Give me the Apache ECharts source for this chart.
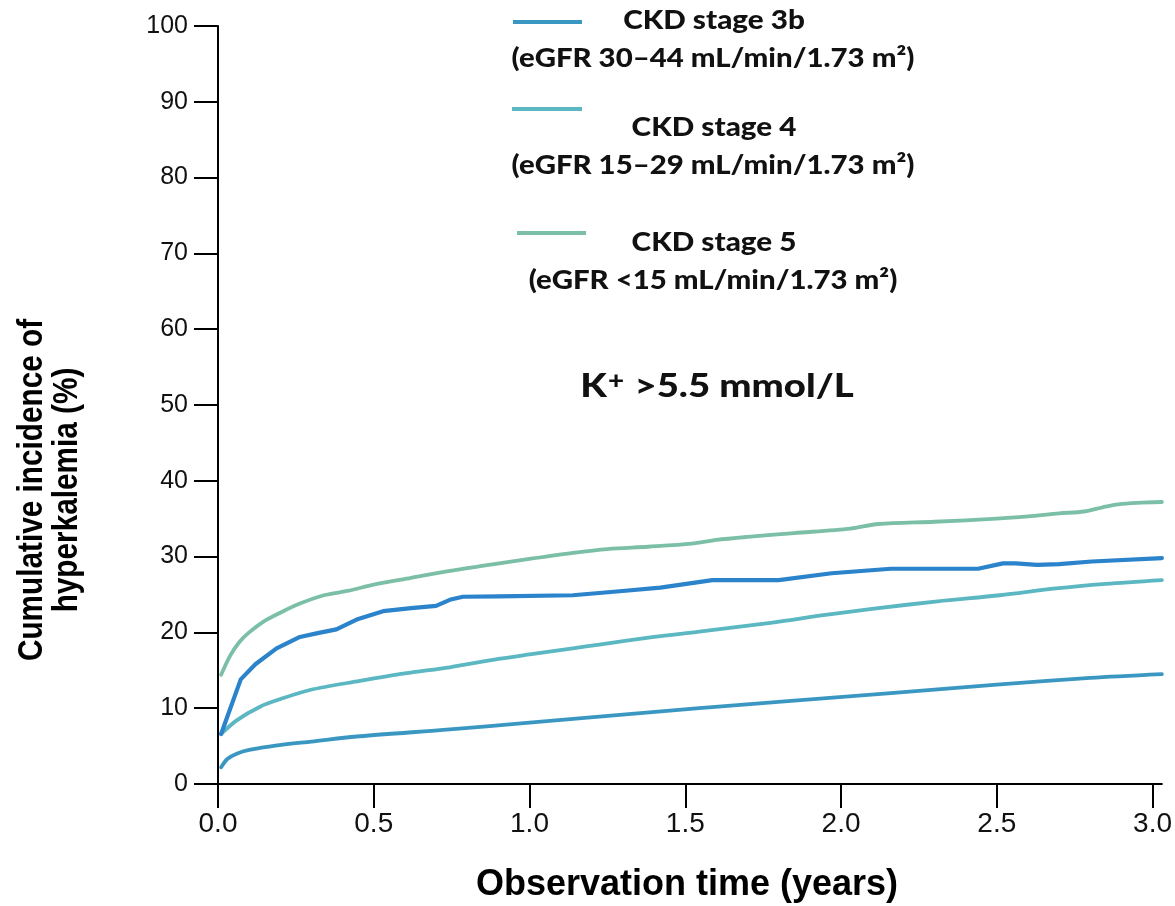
<!DOCTYPE html>
<html><head><meta charset="utf-8">
<script src="https://cdn.jsdelivr.net/npm/echarts@6/dist/echarts.min.js"></script>
<style>html,body{margin:0;padding:0;background:#fff}#c{width:1175px;height:906px}</style>
</head><body><div id="c"></div>
<script>
// ---- Data ----
const xTickValues = [0, 0.5, 1.0, 1.5, 2.0, 2.5, 3.0];

const stage3bTime = [0.01, 0.03, 0.06, 0.10, 0.19, 0.30, 0.455, 0.744, 1.0, 1.224, 1.545, 1.85, 2.16, 2.5, 2.8, 3.03];
const stage3bInc  = [2.2, 3.3, 4.0, 4.5, 5.1, 5.6, 6.3, 7.2, 8.1, 8.9, 10.0, 11.0, 12.0, 13.1, 14.0, 14.5];

const stage4Time = [0.01, 0.06, 0.135, 0.2, 0.295, 0.455, 0.6, 0.744, 0.9, 1.0, 1.139, 1.224, 1.4, 1.545, 1.78, 1.95, 2.1, 2.31, 2.51, 2.69, 2.85, 3.03];
const stage4Inc  = [6.6, 8.4, 10.2, 11.2, 12.4, 13.6, 14.6, 15.4, 16.5, 17.1, 17.9, 18.4, 19.4, 20.1, 21.3, 22.3, 23.1, 24.1, 24.9, 25.8, 26.4, 26.9];

const stage5Time = [0.01, 0.04, 0.07, 0.10, 0.145, 0.2, 0.263, 0.34, 0.42, 0.5, 0.62, 0.74, 0.87, 1.0, 1.14, 1.25, 1.38, 1.52, 1.6, 1.7, 1.85, 2.03, 2.12, 2.3, 2.5, 2.6, 2.7, 2.78, 2.84, 2.89, 2.95, 3.03];
const stage5Inc  = [14.4, 17.0, 18.8, 20.0, 21.4, 22.6, 23.8, 24.9, 25.5, 26.3, 27.2, 28.1, 28.9, 29.7, 30.5, 31.0, 31.3, 31.7, 32.2, 32.6, 33.1, 33.7, 34.3, 34.6, 35.0, 35.3, 35.7, 35.95, 36.5, 36.9, 37.1, 37.2];

const otherTime = [0.01, 0.073, 0.12, 0.188, 0.263, 0.32, 0.38, 0.445, 0.53, 0.62, 0.70, 0.744, 0.786, 0.9, 1.139, 1.28, 1.42, 1.587, 1.8, 1.97, 2.16, 2.44, 2.52, 2.56, 2.63, 2.7, 2.805, 3.03];
const otherInc  = [6.6, 13.8, 15.8, 17.9, 19.4, 19.9, 20.4, 21.7, 22.8, 23.2, 23.5, 24.3, 24.7, 24.75, 24.9, 25.4, 25.9, 26.9, 26.9, 27.8, 28.4, 28.4, 29.1, 29.1, 28.9, 29.0, 29.35, 29.8];

const legendNames = ['CKD stage 3b', 'CKD stage 4', 'CKD stage 5'];
const legendSubs = ['(eGFR 30\u201344 mL/min/1.73 m\u00B2)', '(eGFR 15\u201329 mL/min/1.73 m\u00B2)', '(eGFR <15 mL/min/1.73 m\u00B2)'];

// ---- Styles ----
const colors = { s3b: '#3a97c1', s4: '#5bb7c1', s5: '#7bbfa6', other: '#2a83cb' };
const zip = (t, v) => t.map((x, i) => [x, v[i]]);
const legFont = 'Lato, "Noto Sans", sans-serif';

const chart = echarts.init(document.getElementById('c'), null, { renderer: 'canvas' });

const legendItems = [
  { color: colors.s3b, lx1: 513, lx2: 582, ly: 22, ty1: 21, ty2: 59 },
  { color: colors.s4, lx1: 512, lx2: 582, ly: 109, ty1: 128, ty2: 166 },
  { color: colors.s5, lx1: 517, lx2: 586, ly: 233, ty1: 243, ty2: 281 }
];
const graphics = [];
legendItems.forEach((it, i) => {
  graphics.push({ type: 'line', shape: { x1: it.lx1, y1: it.ly, x2: it.lx2, y2: it.ly }, style: { stroke: it.color, lineWidth: 4 } });
  graphics.push({ type: 'text', x: 714, y: it.ty1, scaleX: 1.14, style: { text: legendNames[i], font: '900 26px ' + legFont, fill: '#111', align: 'center', verticalAlign: 'middle' } });
  graphics.push({ type: 'text', x: 713, y: it.ty2, scaleX: 1.13, style: { text: legendSubs[i], font: '900 26px ' + legFont, fill: '#111', align: 'center', verticalAlign: 'middle' } });
});
graphics.push({
  type: 'text', x: 717, y: 386, scaleX: 1.16,
  style: {
    text: '{a|K}{s|+}{a| >5.5 mmol/L}', align: 'center', verticalAlign: 'middle',
    rich: {
      a: { font: '900 33px ' + legFont, fill: '#111', verticalAlign: 'bottom' },
      s: { font: '900 24px ' + legFont, fill: '#111', verticalAlign: 'top', padding: [0, 1, 0, 1] }
    }
  }
});
graphics.push({ type: 'text', x: 687, y: 885, style: { text: 'Observation time (years)', font: 'bold 36px "Liberation Sans", Arial, sans-serif', fill: '#000', align: 'center', verticalAlign: 'middle' } });
graphics.push({ type: 'text', x: 50, y: 490, rotation: Math.PI / 2, scaleX: 0.85,
  style: { text: 'Cumulative incidence of\nhyperkalemia (%)', font: 'bold 35px "Liberation Sans", Arial, sans-serif', lineHeight: 35, fill: '#000', align: 'center', verticalAlign: 'middle' } });

const mkSeries = (name, data, color, width, smooth) => ({
  name, type: 'line', data, showSymbol: false, symbol: 'none', smooth,
  lineStyle: { color, width, cap: 'round', join: 'round' }, itemStyle: { color }, z: 3
});

chart.setOption({
  animation: false,
  backgroundColor: '#fff',
  grid: { left: 218, right: 12, top: 26, bottom: 122, containLabel: false },
  xAxis: {
    type: 'value', min: 0, max: 3.03, interval: 0.5,
    axisLine: { show: true, onZero: false, lineStyle: { color: '#000', width: 2 } },
    axisTick: { show: true, length: 24, inside: false, lineStyle: { color: '#000', width: 2 }, customValues: xTickValues },
    axisLabel: { customValues: xTickValues, margin: 26, fontSize: 28, fontFamily: '"Liberation Sans", Arial, sans-serif', color: '#111', formatter: v => v.toFixed(1) },
    splitLine: { show: false }
  },
  yAxis: {
    type: 'value', min: 0, max: 100, interval: 10,
    axisLine: { show: true, lineStyle: { color: '#000', width: 2 } },
    axisTick: { show: true, length: 24, inside: false, lineStyle: { color: '#000', width: 2 } },
    axisLabel: { margin: 30, fontSize: 25, fontFamily: '"Liberation Sans", Arial, sans-serif', color: '#111' },
    splitLine: { show: false }
  },
  series: [
    mkSeries('CKD stage 3b', zip(stage3bTime, stage3bInc), colors.s3b, 3.8, 0.3),
    mkSeries('CKD stage 4', zip(stage4Time, stage4Inc), colors.s4, 3.8, 0.3),
    mkSeries('CKD stage 5', zip(stage5Time, stage5Inc), colors.s5, 3.8, 0.3),
    mkSeries('Unlabelled', zip(otherTime, otherInc), colors.other, 4.2, false)
  ],
  graphic: graphics
});
</script>
</body></html>
